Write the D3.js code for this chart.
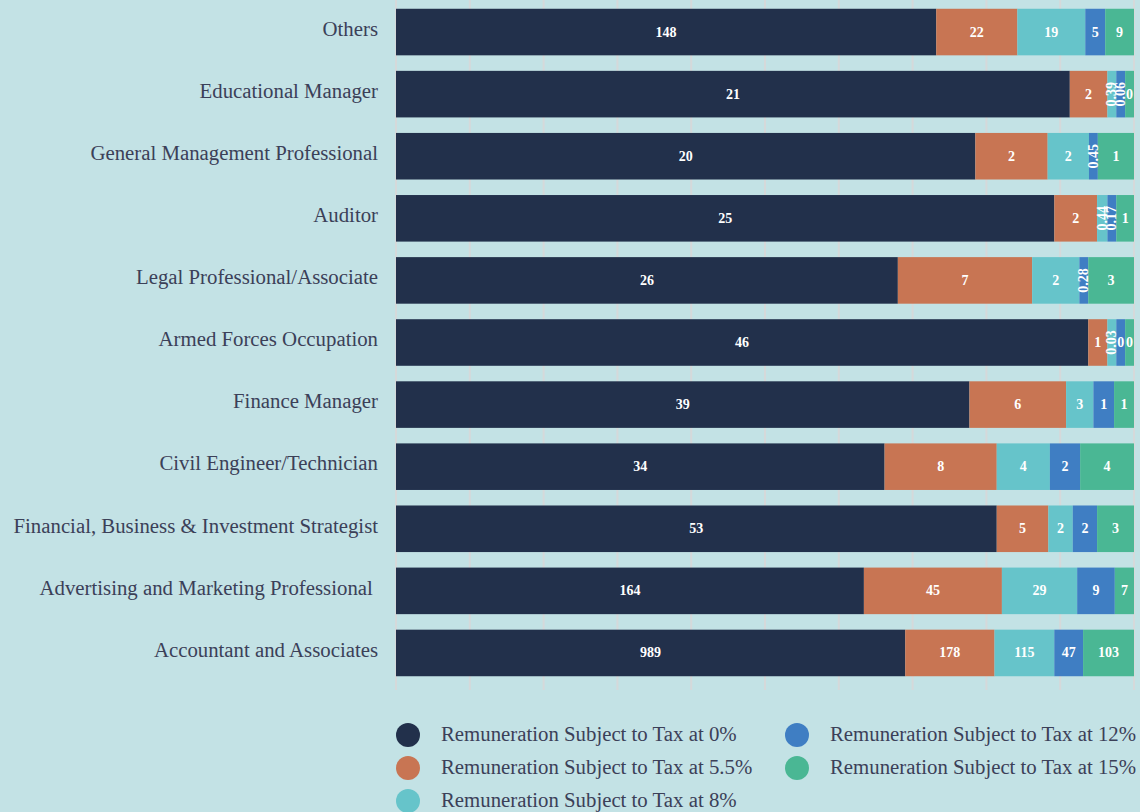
<!DOCTYPE html>
<html>
<head>
<meta charset="utf-8">
<script src="https://cdn.jsdelivr.net/npm/d3@7"></script>
<style>
  html, body { margin: 0; padding: 0; background: #c3e2e5; }
  svg { display: block; }
</style>
</head>
<body>
<script>
// categories, top to bottom
const categories = [
  "Others",
  "Educational Manager",
  "General Management Professional",
  "Auditor",
  "Legal Professional/Associate",
  "Armed Forces Occupation",
  "Finance Manager",
  "Civil Engineer/Technician",
  "Financial, Business & Investment Strategist",
  "Advertising and Marketing Professional ",
  "Accountant and Associates"
];

const seriesNames = [
  "Remuneration Subject to Tax at 0%",
  "Remuneration Subject to Tax at 5.5%",
  "Remuneration Subject to Tax at 8%",
  "Remuneration Subject to Tax at 12%",
  "Remuneration Subject to Tax at 15%"
];

// share of each bar (%)
const share0   = [73.2, 91.3, 78.5, 89.2, 68.0, 93.8, 77.7, 66.2, 81.4, 63.4, 69.0];
const share55  = [11.0,  5.1,  9.8,  5.8, 18.2,  2.6, 13.1, 15.2,  7.0, 18.7, 12.1];
const share8   = [ 9.2,  1.2,  5.6,  1.4,  6.4,  1.2,  3.7,  7.2,  3.3, 10.2,  8.1];
const share12  = [ 2.7,  1.2,  1.2,  1.2,  1.2,  1.2,  2.8,  4.1,  3.3,  5.1,  3.9];
const share15  = [ 3.9,  1.2,  4.9,  2.4,  6.2,  1.2,  2.7,  7.3,  5.0,  2.6,  6.9];

// values printed on the segments
const value0   = ["148", "21", "20", "25", "26", "46", "39", "34", "53", "164", "989"];
const value55  = ["22", "2", "2", "2", "7", "1", "6", "8", "5", "45", "178"];
const value8   = ["19", "0.39", "2", "0.44", "2", "0.03", "3", "4", "2", "29", "115"];
const value12  = ["5", "0.06", "0.45", "0.17", "0.28", "0", "1", "2", "2", "9", "47"];
const value15  = ["9", "0", "1", "1", "3", "0", "1", "4", "3", "7", "103"];

const colors = ["#22304b", "#c87553", "#66c4ca", "#3f7ec3", "#4ab794"];

const shares = [share0, share55, share8, share12, share15];
const values = [value0, value55, value8, value12, value15];

const rows = categories.map((c, i) => {
  const r = { cat: c };
  seriesNames.forEach((s, k) => { r["s" + k] = shares[k][i]; });
  return r;
});
const keys = seriesNames.map((s, k) => "s" + k);

const W = 1140, H = 812;
const svg = d3.select("body").append("svg").attr("width", W).attr("height", H);

const x = d3.scaleLinear().domain([0, 100]).range([396, 1134]);
const y = d3.scaleBand().domain(categories).range([1, 684]).paddingInner(0.25).paddingOuter(0.125);

// grid
svg.append("g")
  .selectAll("line")
  .data(x.ticks(10))
  .join("line")
  .attr("x1", d => x(d)).attr("x2", d => x(d))
  .attr("y1", 0).attr("y2", 690)
  .attr("stroke", "#d5d9da")
  .attr("stroke-width", 2);

// category labels
svg.append("g")
  .selectAll("text")
  .data(categories)
  .join("text")
  .attr("x", 378)
  .attr("y", d => y(d) + y.bandwidth() / 2 - 1)
  .attr("text-anchor", "end")
  .attr("dominant-baseline", "middle")
  .attr("fill", "#3b4058")
  .style("font-family", "'Liberation Serif', serif")
  .style("font-size", "20.8px")
  .style("white-space", "pre")
  .text(d => d);

const stacked = d3.stack().keys(keys)(rows);

const layer = svg.append("g")
  .selectAll("g")
  .data(stacked)
  .join("g")
  .attr("fill", (d, k) => colors[k]);

layer.selectAll("rect")
  .data(d => d)
  .join("rect")
  .attr("x", d => x(d[0]))
  .attr("width", d => x(d[1]) - x(d[0]))
  .attr("y", d => y(d.data.cat))
  .attr("height", y.bandwidth());

// segment labels
const labels = svg.append("g")
  .style("font-family", "'Liberation Serif', serif")
  .style("font-weight", "bold")
  .style("font-size", "14px")
  .attr("fill", "#ffffff");

stacked.forEach((ser, k) => {
  ser.forEach((d, i) => {
    const txt = values[k][i];
    const cx = (x(d[0]) + x(d[1])) / 2;
    const cy = y(d.data.cat) + y.bandwidth() / 2;
    const wSeg = x(d[1]) - x(d[0]);
    const t = labels.append("text")
      .attr("text-anchor", "middle")
      .attr("dominant-baseline", "central")
      .text(txt);
    const tw = t.node().getComputedTextLength();
    if (tw > wSeg) {
      t.attr("transform", `translate(${cx},${cy}) rotate(-90)`);
    } else {
      t.attr("x", cx).attr("y", cy);
    }
  });
});

// legend
const legPos = [
  [408, 735], [408, 768], [408, 801],
  [797, 735], [797, 768]
];
const leg = svg.append("g")
  .selectAll("g")
  .data(seriesNames)
  .join("g")
  .attr("transform", (d, k) => `translate(${legPos[k][0]},${legPos[k][1]})`);

leg.append("circle").attr("r", 12).attr("fill", (d, k) => colors[k]);
leg.append("text")
  .attr("x", 33)
  .attr("y", 1)
  .attr("dominant-baseline", "middle")
  .attr("fill", "#3b4058")
  .style("font-family", "'Liberation Serif', serif")
  .style("font-size", "20.8px")
  .text(d => d);
</script>
</body>
</html>
